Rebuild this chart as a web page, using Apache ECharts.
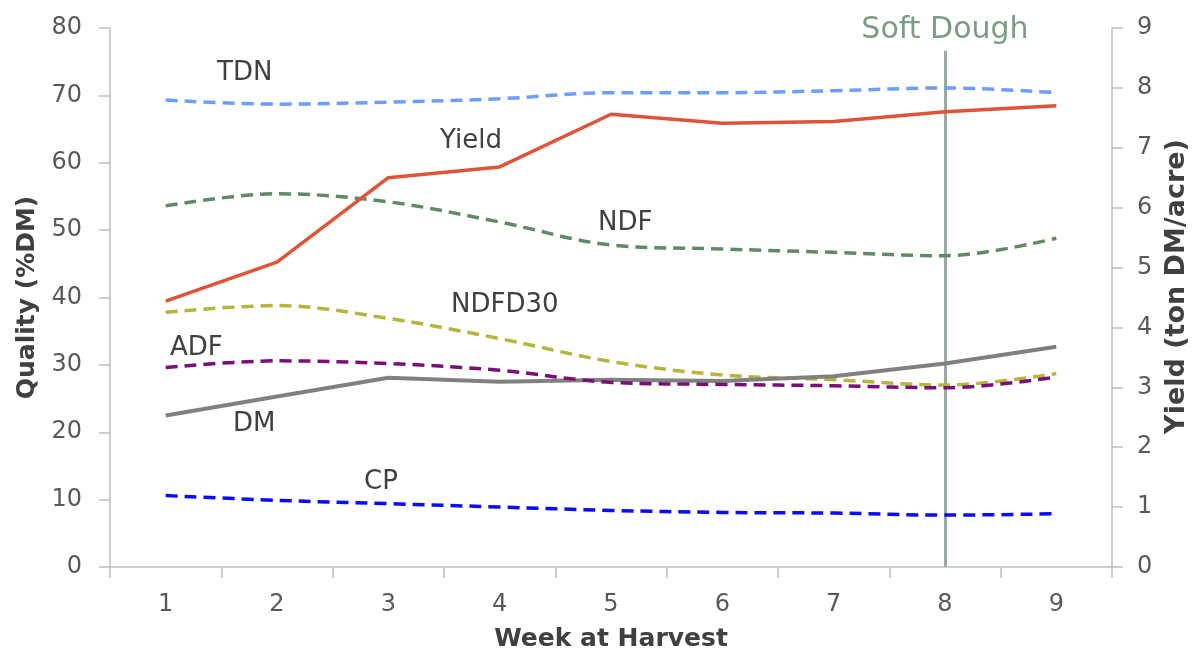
<!DOCTYPE html>
<html>
<head>
<meta charset="utf-8">
<script src="https://cdn.jsdelivr.net/npm/echarts@6/dist/echarts.min.js"></script>
<style>html,body{margin:0;padding:0;background:#fff}#c{width:1198px;height:652px}</style>
</head>
<body>
<div id="c"></div>
<script>
var weeks = ['1','2','3','4','5','6','7','8','9'];
var TDN = [69.3, 68.7, 69.0, 69.5, 70.4, 70.4, 70.7, 71.1, 70.4];
var NDF = [53.6, 55.4, 54.2, 51.2, 47.8, 47.2, 46.7, 46.2, 48.8];
var NDFD30 = [37.8, 38.8, 36.9, 33.9, 30.5, 28.5, 27.8, 27.0, 28.7];
var ADF = [29.6, 30.6, 30.2, 29.2, 27.4, 27.1, 26.9, 26.6, 28.2];
var DM = [22.5, 25.3, 28.1, 27.5, 27.8, 27.6, 28.3, 30.2, 32.7];
var CP = [10.6, 9.9, 9.4, 8.9, 8.4, 8.1, 8.0, 7.7, 7.9];
var Yield = [4.44, 5.09, 6.5, 6.68, 7.56, 7.41, 7.44, 7.6, 7.7];
var leftTicks = {min: 0, max: 80, interval: 10};
var rightTicks = {min: 0, max: 9, interval: 1};
var softDoughWeek = '8';

var FONT = '"DejaVu Sans", sans-serif';
var chart = echarts.init(document.getElementById('c'));
function dashed(name, data, color) {
  return {
    name: name, type: 'line', data: data, yAxisIndex: 0,
    smooth: 0.35, symbol: 'none',
    lineStyle: {color: color, width: 3.5, type: [12, 7]}
  };
}
var lineCol = '#bfbfbf';
var nameStyle = {fontSize: 25, fontWeight: 'bold', color: '#404040', fontFamily: FONT};
chart.setOption({
  animation: false,
  textStyle: {fontFamily: FONT},
  grid: {left: 110, right: 86, top: 28, bottom: 85, outerBoundsMode: 'none', containLabel: false},
  xAxis: {
    type: 'category', data: weeks, boundaryGap: true,
    axisLine: {lineStyle: {color: lineCol, width: 1.5}},
    axisTick: {show: true, length: 11, lineStyle: {color: lineCol, width: 1.5}},
    axisLabel: {fontSize: 24, color: '#595959', margin: 26, fontFamily: FONT},
    name: 'Week at Harvest', nameLocation: 'middle', nameGap: 60,
    nameTextStyle: nameStyle
  },
  yAxis: [{
    type: 'value', min: leftTicks.min, max: leftTicks.max, interval: leftTicks.interval,
    axisLine: {show: true, lineStyle: {color: lineCol, width: 1.5}},
    axisTick: {show: true, length: 11, lineStyle: {color: lineCol, width: 1.5}},
    splitLine: {show: false},
    axisLabel: {fontSize: 24, color: '#595959', margin: 28, fontFamily: FONT, padding: [5, 0, 0, 0]},
    name: 'Quality (%DM)', nameLocation: 'middle', nameGap: 70, nameRotate: 90,
    nameTextStyle: nameStyle
  }, {
    type: 'value', position: 'right', min: rightTicks.min, max: rightTicks.max, interval: rightTicks.interval,
    axisLine: {show: true, lineStyle: {color: lineCol, width: 1.5}},
    axisTick: {show: true, length: 11, lineStyle: {color: lineCol, width: 1.5}},
    splitLine: {show: false},
    axisLabel: {fontSize: 24, color: '#595959', margin: 25, fontFamily: FONT, padding: [5, 0, 0, 0]},
    name: 'Yield (ton DM/acre)', nameLocation: 'middle', nameGap: 31, nameRotate: 90,
    nameTextStyle: {fontSize: 27, fontWeight: 'bold', color: '#404040', fontFamily: FONT, padding: [0, 0, 0, 22]}
  }],
  series: [
    dashed('TDN', TDN, '#6d9eff'),
    dashed('NDF', NDF, '#5f8a65'),
    dashed('NDFD30', NDFD30, '#b8b33a'),
    {
      name: 'DM', type: 'line', data: DM, yAxisIndex: 0, symbol: 'none',
      lineStyle: {color: '#808080', width: 4}
    },
    dashed('ADF', ADF, '#7a0f78'),
    dashed('CP', CP, '#0a0aff'),
    {
      name: 'Yield', type: 'line', data: Yield, yAxisIndex: 1, symbol: 'none',
      lineStyle: {color: '#e0533a', width: 3.5},
      z: 3,
      markLine: {
        silent: true, symbol: 'none', z: 1,
        lineStyle: {color: '#9aab9f', width: 3, type: 'solid'},
        label: {show: true, position: 'end', formatter: 'Soft Dough', fontSize: 30, color: '#7b9d82', fontFamily: FONT, distance: 6},
        data: [[{coord: [softDoughWeek, 0]}, {coord: [softDoughWeek, 8.62]}]]
      }
    }
  ],
  graphic: [
    {type: 'text', x: 217, y: 73, style: {text: 'TDN', font: '26px ' + FONT, fill: '#404040', verticalAlign: 'middle'}},
    {type: 'text', x: 440, y: 141, style: {text: 'Yield', font: '26px ' + FONT, fill: '#404040', verticalAlign: 'middle'}},
    {type: 'text', x: 598, y: 223, style: {text: 'NDF', font: '26px ' + FONT, fill: '#404040', verticalAlign: 'middle'}},
    {type: 'text', x: 451, y: 305, style: {text: 'NDFD30', font: '26px ' + FONT, fill: '#404040', verticalAlign: 'middle'}},
    {type: 'text', x: 170, y: 348, style: {text: 'ADF', font: '26px ' + FONT, fill: '#404040', verticalAlign: 'middle'}},
    {type: 'text', x: 233, y: 424, style: {text: 'DM', font: '26px ' + FONT, fill: '#404040', verticalAlign: 'middle'}},
    {type: 'text', x: 364, y: 482, style: {text: 'CP', font: '26px ' + FONT, fill: '#404040', verticalAlign: 'middle'}}
  ]
});
</script>
</body>
</html>
